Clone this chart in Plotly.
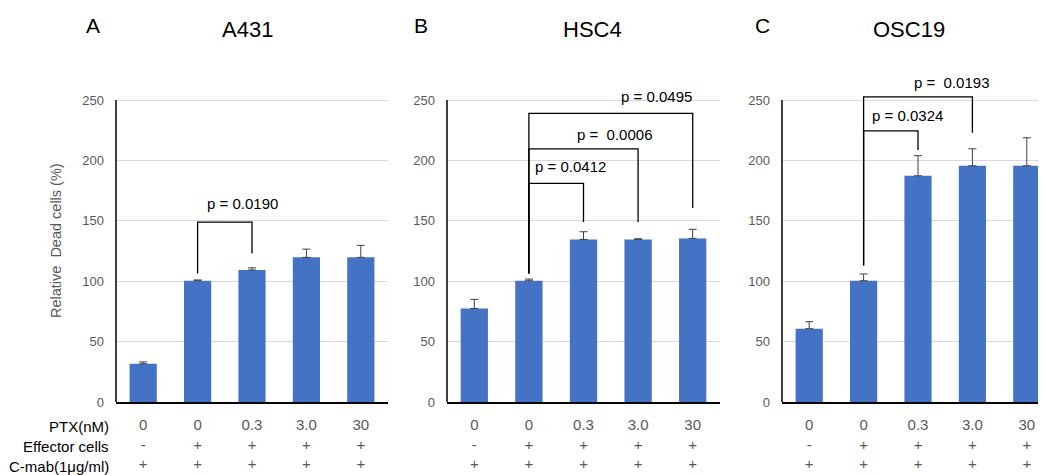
import plotly.graph_objects as go

# ---------------- data ----------------
panels = ["A", "B", "C"]
cell_lines = ["A431", "HSC4", "OSC19"]
ptx_labels = ["0", "0", "0.3", "3.0", "30"]
effector_labels = ["-", "+", "+", "+", "+"]
cmab_labels = ["+", "+", "+", "+", "+"]
row_labels = ["PTX(nM)", "Effector cells", "C-mab(1μg/ml)"]

a431_mean = [31.7, 100.4, 109.3, 119.8, 119.8]
a431_err = [1.5, 0.7, 1.8, 6.8, 9.9]
hsc4_mean = [77.5, 100.4, 134.6, 134.6, 135.5]
hsc4_err = [7.5, 1.4, 6.4, 0.6, 7.5]
osc19_mean = [60.7, 100.4, 187.3, 195.6, 195.6]
osc19_err = [5.8, 5.6, 16.7, 14.1, 23.2]

# brackets: (left bar, right bar, top, left leg bottom, right leg bottom)
a431_brackets = [(1, 2, 149.0, 106.5, 123.0)]
hsc4_brackets = [(1, 2, 181.0, 106.5, 149.0),
                 (1, 3, 209.7, 106.5, 149.0),
                 (1, 4, 239.0, 106.5, 160.6)]
osc19_brackets = [(1, 2, 224.6, 113.0, 208.6),
                  (1, 3, 252.7, 113.0, 223.0)]
# p-value labels: (text, x position, y position) in data units
a431_pvals = [("p = 0.0190", 1.82, 164.0)]
hsc4_pvals = [("p = 0.0412", 1.77, 194.8),
              ("p =\u00a0 0.0006", 2.56, 221.9),
              ("p = 0.0495", 3.33, 252.7)]
osc19_pvals = [("p = 0.0324", 1.81, 237.6),
               ("p =\u00a0 0.0193", 2.61, 264.3)]

means = [a431_mean, hsc4_mean, osc19_mean]
errs = [a431_err, hsc4_err, osc19_err]
brackets = [a431_brackets, hsc4_brackets, osc19_brackets]
pvals = [a431_pvals, hsc4_pvals, osc19_pvals]

# ---------------- layout geometry ----------------
# the page body margin offsets the figure by 8 px; positions below are page pixels
OFF = 8
SY = 475 / 483
W, H = 1046 - OFF, 475
FONT = "Liberation Sans, Arial, sans-serif"
BAR = "#4472C4"
GRAY = "#595959"


def px_x(p):
    return (p - OFF) / W


def px_y(p):
    return 1 - (p / SY - OFF) / H


x_px = [(116, 388), (447, 720), (782, 1046)]
x_ranges = [[-0.5, 4.5], [-0.5, 4.5], [-0.5, -0.5 + 264 / 54.4]]
y_range = [0, 272]
y_bottom_px = 402
y_top_px = 402 - y_range[1] * (402 - 100) / 250
y_dom = [px_y(y_bottom_px), px_y(y_top_px)]

tick_text = [f"{p}<br>{e}<br>{c}" for p, e, c in zip(ptx_labels, effector_labels, cmab_labels)]
xs = list(range(len(ptx_labels)))

fig = go.Figure()
shapes = []
annotations = []

for i in range(3):
    xa = "x" if i == 0 else f"x{i+1}"
    ya = "y" if i == 0 else f"y{i+1}"
    fig.add_trace(go.Bar(
        x=xs, y=means[i], width=0.5, marker=dict(color=BAR, line=dict(width=0)),
        error_y=dict(type="data", array=errs[i], arrayminus=[0] * 5, symmetric=False,
                     color="#404040", thickness=1, width=4),
        xaxis=xa, yaxis=ya, showlegend=False, hoverinfo="y"))

    xkey = "xaxis" if i == 0 else f"xaxis{i+1}"
    ykey = "yaxis" if i == 0 else f"yaxis{i+1}"
    fig.layout[xkey] = dict(
        domain=[px_x(x_px[i][0]), min(1.0, px_x(x_px[i][1]))], range=x_ranges[i], anchor=ya,
        tickvals=xs, ticktext=tick_text, ticks="", showgrid=False, zeroline=False,
        showline=True, linecolor="#000000", linewidth=2,
        tickfont=dict(family=FONT, size=15, color=GRAY), ticklabelstandoff=8)
    fig.layout[ykey] = dict(
        domain=y_dom, range=y_range, anchor=xa, tickvals=[0, 50, 100, 150, 200, 250],
        ticks="", showgrid=True, gridcolor="#d9d9d9", gridwidth=1, zeroline=False,
        showline=False, tickfont=dict(family=FONT, size=13, color=GRAY),
        ticklabelstandoff=11)

    shapes.append(dict(type="line", xref=f"{xa} domain", yref=ya, x0=0, x1=0, y0=0, y1=250,
                       line=dict(color="#000000", width=1.5)))
    for (l, r, top, lb, rb) in brackets[i]:
        shapes.append(dict(type="path", xref=xa, yref=ya,
                           path=f"M {l},{lb} L {l},{top} L {r},{top} L {r},{rb}",
                           line=dict(color="#000000", width=1.3)))
    for (txt, px, py) in pvals[i]:
        annotations.append(dict(text=txt, x=px, y=py, xref=xa, yref=ya, showarrow=False,
                                xanchor="center", yanchor="middle",
                                font=dict(family=FONT, size=15, color="#000000")))

letter_px = [(93, 25), (421, 25), (762, 25)]
title_px = [(247.5, 29), (592, 29), (909, 29)]
for i in range(3):
    annotations.append(dict(text=panels[i], x=px_x(letter_px[i][0]), y=px_y(letter_px[i][1]),
                            xref="paper", yref="paper", showarrow=False,
                            xanchor="center", yanchor="middle",
                            font=dict(family=FONT, size=21, color="#000000")))
    annotations.append(dict(text=cell_lines[i], x=px_x(title_px[i][0]), y=px_y(title_px[i][1]),
                            xref="paper", yref="paper", showarrow=False,
                            xanchor="center", yanchor="middle",
                            font=dict(family=FONT, size=22, color="#000000")))

annotations.append(dict(text="Relative  Dead cells (%)", x=px_x(56), y=px_y(241),
                        xref="paper", yref="paper", showarrow=False, textangle=-90,
                        xanchor="center", yanchor="middle",
                        font=dict(family=FONT, size=14.5, color=GRAY)))
row_y = [426.7, 446.7, 466.7]
for lab, ry in zip(row_labels, row_y):
    annotations.append(dict(text=lab, x=px_x(111), y=px_y(ry), xref="paper", yref="paper",
                            xanchor="right", yanchor="middle", showarrow=False,
                            font=dict(family=FONT, size=15, color="#000000")))

fig.update_layout(width=W, height=H, margin=dict(l=0, r=0, t=0, b=0),
                  paper_bgcolor="white", plot_bgcolor="white",
                  shapes=shapes, annotations=annotations)

fig.write_html("out.html")
